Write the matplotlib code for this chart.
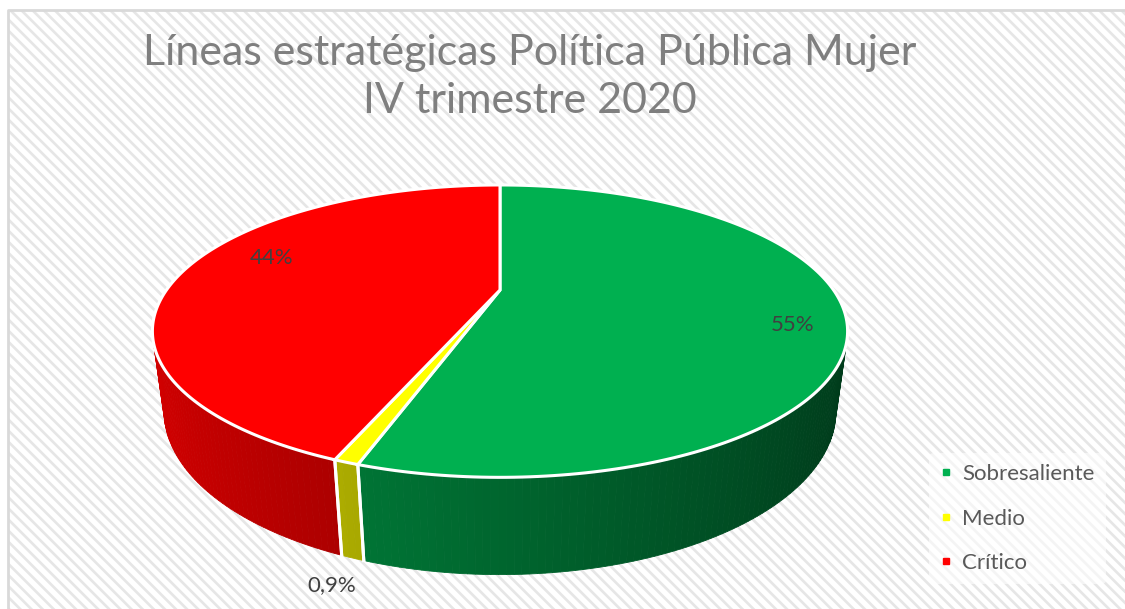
import numpy as np
import matplotlib.pyplot as plt
from matplotlib.patches import Polygon, Rectangle
from matplotlib.lines import Line2D

plt.rcParams['font.family'] = ['Lato', 'DejaVu Sans']
plt.rcParams['hatch.linewidth'] = 1.9

# data
categories = ['Sobresaliente', 'Medio', 'Crítico']
values = [55, 0.9, 44]
pct_labels = ['55%', '0,9%', '44%']
top_colors = ['#00B050', '#FFFF00', '#FF0000']
title = 'Líneas estratégicas Política Pública Mujer\nIV trimestre 2020'

W, H = 1125, 609
fig = plt.figure(figsize=(W / 100, H / 100), dpi=100)
ax = fig.add_axes([0, 0, 1, 1])
ax.set_xlim(0, W)
ax.set_ylim(H, 0)
ax.axis('off')

# hatched chart area with thin gray border
ax.add_patch(Rectangle((8, 10), W, H, facecolor='white', edgecolor='#e6e6e6',
                       lw=0, hatch='\\\\\\', zorder=0))
ax.plot([8, 8, W], [H, 10, 10], color='#d9d9d9', lw=2, zorder=1)

# simple perspective camera for the 3D pie
cx, cy = 500, 290
elev = np.radians(23.8)
se, ce = np.sin(elev), np.cos(elev)
dist = 3.25
focal = 1084
thick = 0.259


def project(a, r=1.0, y=0.0):
    X = r * np.cos(a)
    Z = r * np.sin(a)
    D = dist + Z * ce - y * se
    V = Z * se + y * ce
    return cx + focal * X / D, cy - focal * V / D


def shade(color, a):
    rgb = np.array(plt.matplotlib.colors.to_rgb(color))
    f = 0.58 - 0.26 * np.cos(a)
    return tuple(rgb * f)


fracs = np.array(values) / np.sum(values)
starts = np.radians(90 - 360 * np.concatenate([[0], np.cumsum(fracs)[:-1]]))
ends = starts - np.radians(360 * fracs)

# side walls (front facing segments only)
quads = []
for i in range(len(values)):
    n = max(int(abs(ends[i] - starts[i]) / np.radians(1)), 2)
    ts = np.linspace(starts[i], ends[i], n + 1)
    for t0, t1 in zip(ts[:-1], ts[1:]):
        p = [project(t0), project(t1), project(t1, y=-thick), project(t0, y=-thick)]
        xs = np.array([q[0] for q in p])
        ys = np.array([q[1] for q in p])
        area = 0.5 * np.sum(xs * np.roll(ys, -1) - np.roll(xs, -1) * ys)
        if area > 0:
            continue
        tm = 0.5 * (t0 + t1)
        quads.append((np.sin(tm), p, shade(top_colors[i], tm)))
quads.sort(key=lambda q: -q[0])
for _, p, col in quads:
    ax.add_patch(Polygon(p, closed=True, facecolor=col, edgecolor=col, lw=0.6, zorder=2))

# white seams where slices meet on the side
for b in np.concatenate([starts, ends]):
    if np.sin(b) < -0.3:
        x0, y0 = project(b)
        x1, y1 = project(b, y=-thick)
        ax.plot([x0, x1], [y0, y1], color='white', lw=2.2, zorder=3)

# top face
for i in range(len(values)):
    ts = np.linspace(starts[i], ends[i], 200)
    pts = [(cx, cy)] + [project(t) for t in ts]
    ax.add_patch(Polygon(pts, closed=True, facecolor=top_colors[i], edgecolor='white',
                         lw=2.2, joinstyle='miter', zorder=4))

# data labels (radius, height above top face)
label_pos = [(0.86, -0.05), (1.1, -thick), (0.72, 0.05)]
for i, (r, yh) in enumerate(label_pos):
    mid = 0.5 * (starts[i] + ends[i])
    lx, ly = project(mid, r=r, y=yh)
    ax.text(lx, ly, pct_labels[i], ha='center', va='center', fontsize=16,
            color='#404040', zorder=5)

ax.text(530, 77, title, ha='center', va='center', fontsize=31, color='#7f7f7f',
        linespacing=1.3, zorder=5)

handles = [Line2D([], [], marker='s', ls='', color=c, markersize=4) for c in top_colors]
leg = ax.legend(handles, categories, loc='upper left',
                bbox_to_anchor=(918 / W, 1 - 442 / H), bbox_transform=fig.transFigure,
                frameon=True, fontsize=16, labelspacing=1.1, handlelength=0.5,
                handletextpad=0.5, borderpad=0.5)
leg.get_frame().set_facecolor('white')
leg.get_frame().set_alpha(0.6)
leg.get_frame().set_linewidth(0)
for t in leg.get_texts():
    t.set_color('#595959')

fig.savefig('out.png', dpi=100)
